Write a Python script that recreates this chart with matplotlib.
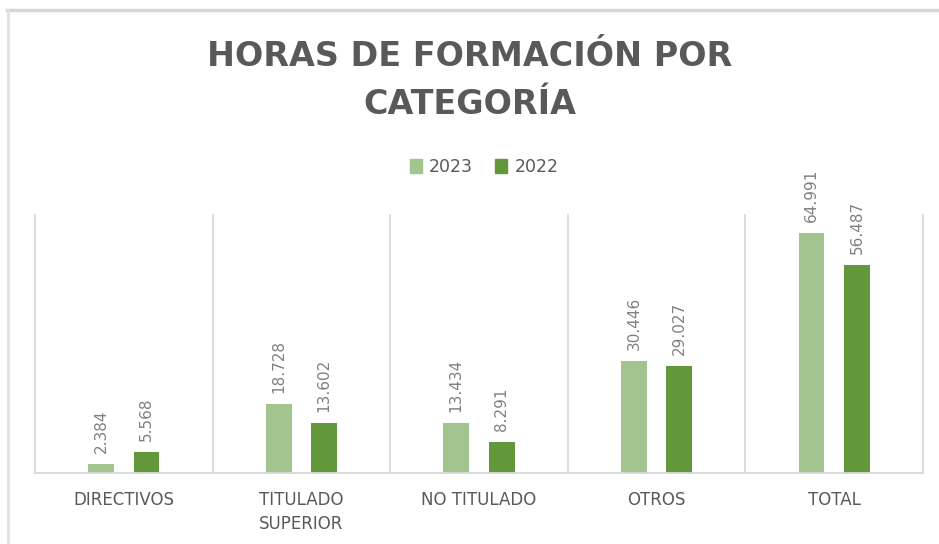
import matplotlib.pyplot as plt
from matplotlib.lines import Line2D
from matplotlib.patches import Patch

categorias = ['DIRECTIVOS', 'TITULADO\nSUPERIOR', 'NO TITULADO', 'OTROS', 'TOTAL']
horas_2023 = [2384, 18728, 13434, 30446, 64991]
horas_2022 = [5568, 13602, 8291, 29027, 56487]
series = ['2023', '2022']

verde_claro = '#A2C48E'
verde_oscuro = '#62973C'
gris_texto = '#595959'
gris_linea = '#D9D9D9'


def miles(v):
    # separador de miles con punto
    return f'{v:,}'.replace(',', '.')


fig = plt.figure(figsize=(9.39, 5.44), dpi=100)
ax = fig.add_axes([35 / 939, 71 / 544, 888 / 939, 258 / 544])

x = list(range(len(categorias)))
ancho = 0.145
desp = 0.128
b1 = ax.bar([i - desp for i in x], horas_2023, width=ancho, color=verde_claro, label=series[0])
b2 = ax.bar([i + desp for i in x], horas_2022, width=ancho, color=verde_oscuro, label=series[1])

for barras in (b1, b2):
    for rect in barras:
        h = rect.get_height()
        ax.annotate(miles(int(h)), (rect.get_x() + rect.get_width() / 2, h),
                    xytext=(0, 8), textcoords='offset points', rotation=90,
                    ha='center', va='bottom', fontsize=11, color='#808080')

ax.set_xlim(-0.5, len(categorias) - 0.5)
ax.set_ylim(0, 70000)
for i in range(len(categorias) + 1):
    ax.axvline(i - 0.5, color=gris_linea, lw=1.3, clip_on=False, zorder=0)

for s in ['top', 'left', 'right']:
    ax.spines[s].set_visible(False)
ax.spines['bottom'].set_color(gris_linea)
ax.spines['bottom'].set_linewidth(1.3)
ax.set_yticks([])
ax.set_xticks(x)
ax.set_xticklabels(categorias, fontsize=12, color=gris_texto, linespacing=1.4)
ax.tick_params(axis='x', length=0, pad=13)

fig.text(0.5, 1 - 57 / 544, 'HORAS DE FORMACIÓN POR', ha='center', va='center',
         fontsize=24, fontweight='bold', color=gris_texto)
fig.text(0.5, 1 - 104 / 544, 'CATEGORÍA', ha='center', va='center',
         fontsize=24, fontweight='bold', color=gris_texto)

handles = [Patch(color=verde_claro), Patch(color=verde_oscuro)]
fig.legend(handles, series, loc='center', bbox_to_anchor=(484 / 939, 1 - 167 / 544),
           ncol=2, frameon=False, fontsize=12.5, handlelength=0.7, handleheight=0.9,
           handletextpad=0.4, columnspacing=1.3, labelcolor=gris_texto)

# borde gris del recuadro del gráfico
fig.add_artist(Line2D([7 / 939, 1], [1 - 10 / 544, 1 - 10 / 544], color='#D6D6D6', lw=2.5,
                      transform=fig.transFigure))
fig.add_artist(Line2D([8 / 939, 8 / 939], [0, 1 - 10 / 544], color='#E0E0E0', lw=2,
                      transform=fig.transFigure))

fig.savefig('out.png', dpi=100)
